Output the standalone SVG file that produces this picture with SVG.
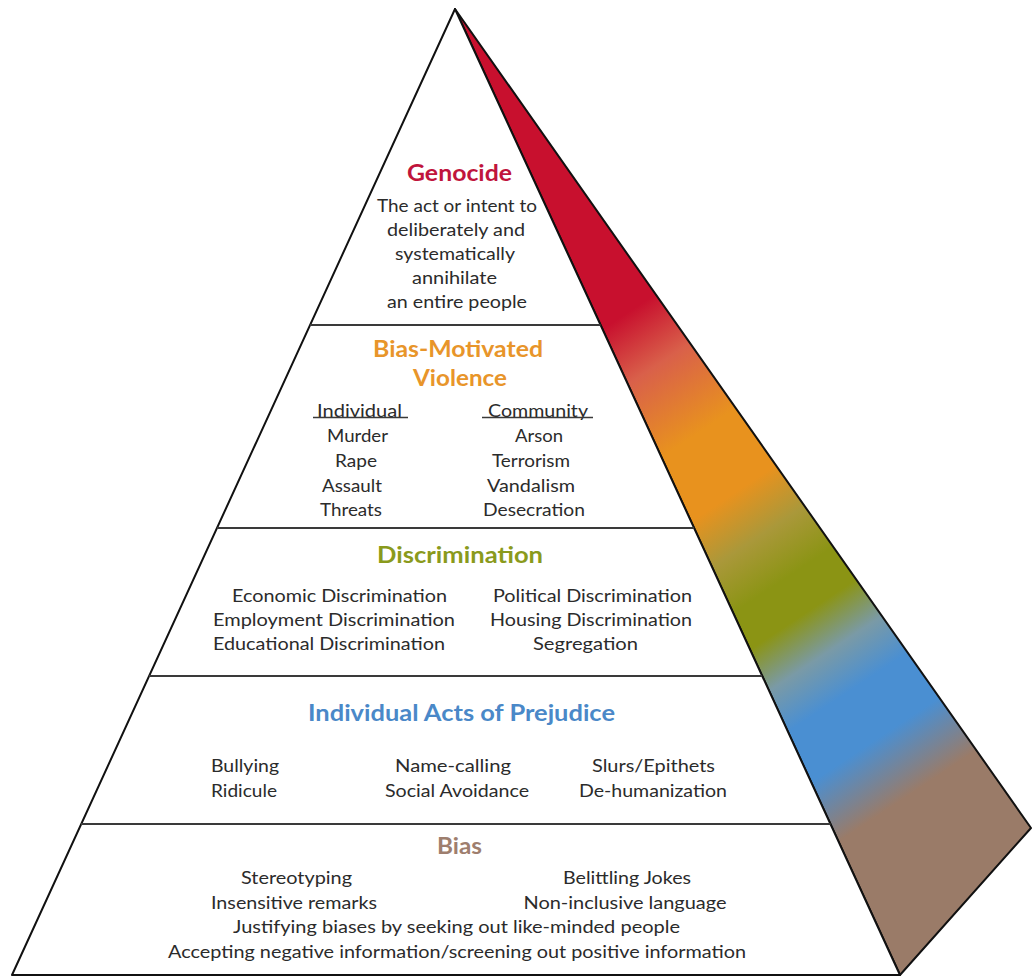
<svg xmlns="http://www.w3.org/2000/svg" width="1032" height="979" viewBox="0 0 1032 979">
<defs>
<linearGradient id="side" gradientUnits="userSpaceOnUse" x1="455" y1="9" x2="1005" y2="839">
<stop offset="0" stop-color="#c8102e"/>
<stop offset="0.35" stop-color="#c8102e"/>
<stop offset="0.41" stop-color="#d9604a"/>
<stop offset="0.49" stop-color="#e8921e"/>
<stop offset="0.56" stop-color="#e8921e"/>
<stop offset="0.61" stop-color="#aa983a"/>
<stop offset="0.66" stop-color="#8b9414"/>
<stop offset="0.70" stop-color="#8b9414"/>
<stop offset="0.745" stop-color="#7a9aa6"/>
<stop offset="0.79" stop-color="#4a8fd2"/>
<stop offset="0.845" stop-color="#4a8fd2"/>
<stop offset="0.91" stop-color="#9a7b68"/>
<stop offset="1" stop-color="#9a7b68"/>
</linearGradient>
<style>
text{font-family:Lato,"Liberation Sans",sans-serif;text-anchor:middle}
.t{font-size:18px;fill:#2b2b2b}
.h{font-size:22px;font-weight:bold}
.div{stroke:#3a3a3a;stroke-width:2;fill:none}
.ul{stroke:#3a3a3a;stroke-width:1.3}
</style>
</defs>
<rect width="1032" height="979" fill="#ffffff"/>
<g id="pyramid">
<polygon points="455,9 1031,828 900,975" fill="url(#side)" stroke="#111" stroke-width="2" stroke-linejoin="round"/>
<polygon points="455,9 12,975 900,975" fill="#ffffff" stroke="#111" stroke-width="2" stroke-linejoin="round"/>
</g>
<g id="connectors">
<line class="div" x1="310" y1="325" x2="600.6" y2="325"/>
<line class="div" x1="217" y1="528" x2="694" y2="528"/>
<line class="div" x1="149" y1="676" x2="762" y2="676"/>
<line class="div" x1="81" y1="824" x2="830.5" y2="824"/>
</g>
<g id="genocide">
<text class="h" x="459.5" y="181" fill="#c0143c" textLength="105" lengthAdjust="spacingAndGlyphs">Genocide</text>
<text class="t" x="457" y="212" textLength="160" lengthAdjust="spacingAndGlyphs">The act or intent to</text>
<text class="t" x="456" y="236" textLength="138" lengthAdjust="spacingAndGlyphs">deliberately and</text>
<text class="t" x="455" y="260" textLength="120" lengthAdjust="spacingAndGlyphs">systematically</text>
<text class="t" x="454.5" y="284" textLength="85" lengthAdjust="spacingAndGlyphs">annihilate</text>
<text class="t" x="457" y="308" textLength="140" lengthAdjust="spacingAndGlyphs">an entire people</text>
</g>
<g id="violence">
<text class="h" x="458" y="357" fill="#e8952a" textLength="170" lengthAdjust="spacingAndGlyphs">Bias-Motivated</text>
<text class="h" x="460" y="386" fill="#e8952a" textLength="94" lengthAdjust="spacingAndGlyphs">Violence</text>
<text class="t" x="359.5" y="417" textLength="85" lengthAdjust="spacingAndGlyphs">Individual</text>
<line class="ul" x1="313" y1="417.5" x2="408" y2="417.5"/>
<text class="t" x="538" y="417" textLength="100" lengthAdjust="spacingAndGlyphs">Community</text>
<line class="ul" x1="482" y1="417.5" x2="593" y2="417.5"/>
<text class="t" x="357.5" y="442" textLength="61" lengthAdjust="spacingAndGlyphs">Murder</text>
<text class="t" x="356" y="467" textLength="42" lengthAdjust="spacingAndGlyphs">Rape</text>
<text class="t" x="352" y="492" textLength="60" lengthAdjust="spacingAndGlyphs">Assault</text>
<text class="t" x="351" y="516" textLength="62" lengthAdjust="spacingAndGlyphs">Threats</text>
<text class="t" x="539" y="442" textLength="48" lengthAdjust="spacingAndGlyphs">Arson</text>
<text class="t" x="531" y="467" textLength="78" lengthAdjust="spacingAndGlyphs">Terrorism</text>
<text class="t" x="531" y="492" textLength="88" lengthAdjust="spacingAndGlyphs">Vandalism</text>
<text class="t" x="534" y="516" textLength="102" lengthAdjust="spacingAndGlyphs">Desecration</text>
</g>
<g id="discrimination">
<text class="h" x="460" y="563" fill="#8a9a1c" textLength="166" lengthAdjust="spacingAndGlyphs">Discrimination</text>
<text class="t" x="339.5" y="602" textLength="215" lengthAdjust="spacingAndGlyphs">Economic Discrimination</text>
<text class="t" x="334" y="626" textLength="242" lengthAdjust="spacingAndGlyphs">Employment Discrimination</text>
<text class="t" x="329" y="650" textLength="232" lengthAdjust="spacingAndGlyphs">Educational Discrimination</text>
<text class="t" x="592.5" y="602" textLength="199" lengthAdjust="spacingAndGlyphs">Political Discrimination</text>
<text class="t" x="591" y="626" textLength="202" lengthAdjust="spacingAndGlyphs">Housing Discrimination</text>
<text class="t" x="585.5" y="650" textLength="105" lengthAdjust="spacingAndGlyphs">Segregation</text>
</g>
<g id="prejudice">
<text class="h" x="461.5" y="721" fill="#4a88c8" textLength="307" lengthAdjust="spacingAndGlyphs">Individual Acts of Prejudice</text>
<text class="t" x="245" y="772" textLength="68" lengthAdjust="spacingAndGlyphs">Bullying</text>
<text class="t" x="244" y="797" textLength="66" lengthAdjust="spacingAndGlyphs">Ridicule</text>
<text class="t" x="453" y="772" textLength="116" lengthAdjust="spacingAndGlyphs">Name-calling</text>
<text class="t" x="457" y="797" textLength="144" lengthAdjust="spacingAndGlyphs">Social Avoidance</text>
<text class="t" x="653.5" y="772" textLength="123" lengthAdjust="spacingAndGlyphs">Slurs/Epithets</text>
<text class="t" x="653" y="797" textLength="148" lengthAdjust="spacingAndGlyphs">De-humanization</text>
</g>
<g id="bias">
<text class="h" x="459.5" y="854" fill="#9e7e6e" textLength="45" lengthAdjust="spacingAndGlyphs">Bias</text>
<text class="t" x="296.5" y="884" textLength="111" lengthAdjust="spacingAndGlyphs">Stereotyping</text>
<text class="t" x="627" y="884" textLength="128" lengthAdjust="spacingAndGlyphs">Belittling Jokes</text>
<text class="t" x="294" y="909" textLength="166" lengthAdjust="spacingAndGlyphs">Insensitive remarks</text>
<text class="t" x="625" y="909" textLength="203" lengthAdjust="spacingAndGlyphs">Non-inclusive language</text>
<text class="t" x="456.5" y="933" textLength="447" lengthAdjust="spacingAndGlyphs">Justifying biases by seeking out like-minded people</text>
<text class="t" x="457" y="958" textLength="578" lengthAdjust="spacingAndGlyphs">Accepting negative information/screening out positive information</text>
</g>
</svg>
